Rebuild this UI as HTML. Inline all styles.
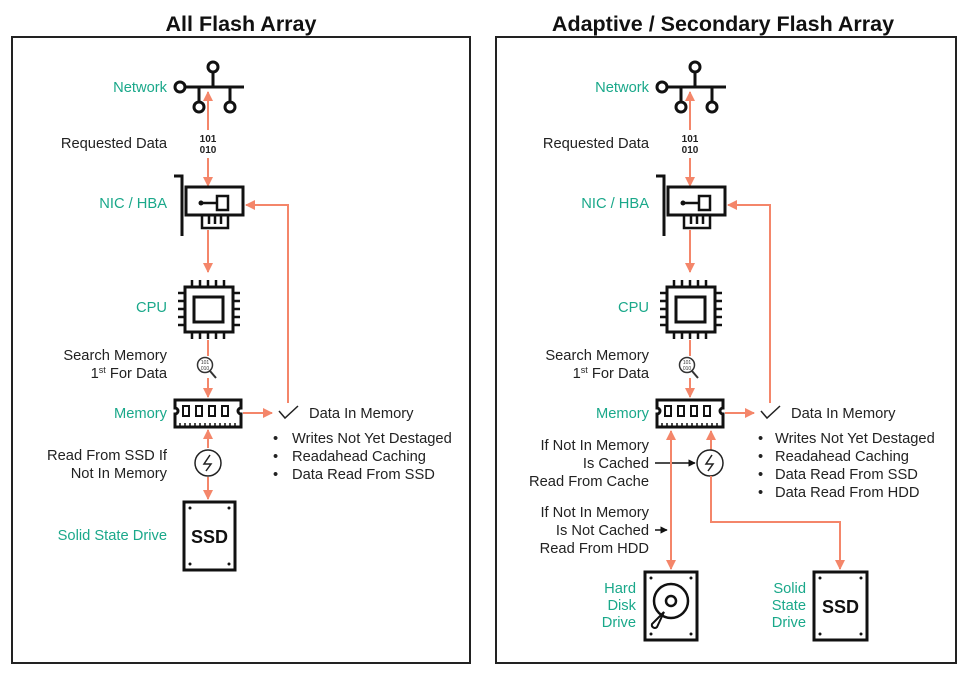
<!DOCTYPE html>
<html><head><meta charset="utf-8"><style>
body{margin:0;background:#fff;}
svg{display:block;font-family:"Liberation Sans",sans-serif;}
.g{fill:#1aa88a;font-size:14.7px;}
.k{fill:#222;font-size:14.7px;}
.o{stroke:#f4866a;stroke-width:2;fill:none;}
.b{stroke:#111;stroke-width:3;fill:none;}
</style></head><body>
<svg width="980" height="700" viewBox="0 0 980 700">
<defs>
<marker id="a" viewBox="0 0 10 10" refX="9" refY="5" markerWidth="5" markerHeight="5" orient="auto-start-reverse"><path d="M0,0L10,5L0,10z" fill="#f4866a"/></marker>
<marker id="ak" viewBox="0 0 10 10" refX="9" refY="5" markerWidth="5" markerHeight="5" orient="auto"><path d="M0,0L10,5L0,10z" fill="#111"/></marker>
<g id="col">
 <line x1="186" y1="87" x2="244" y2="87" class="b"/>
 <circle cx="180" cy="87" r="5" class="b"/>
 <line x1="213" y1="87" x2="213" y2="72" class="b"/><circle cx="213" cy="67" r="5" class="b"/>
 <line x1="199" y1="87" x2="199" y2="102" class="b"/><circle cx="199" cy="107" r="5" class="b"/>
 <line x1="230" y1="87" x2="230" y2="102" class="b"/><circle cx="230" cy="107" r="5" class="b"/>
 <line x1="208" y1="130" x2="208" y2="92" class="o" marker-end="url(#a)"/>
 <text x="208" y="142" text-anchor="middle" font-size="10" font-weight="bold" fill="#222">101</text>
 <text x="208" y="153" text-anchor="middle" font-size="10" font-weight="bold" fill="#222">010</text>
 <line x1="208" y1="158" x2="208" y2="186" class="o" marker-end="url(#a)"/>
 <path d="M174,176 H182 V236" class="b"/>
 <rect x="186" y="187" width="57" height="28" class="b"/>
 <path d="M202,215 V228 H228 V215 M209,215V224 M215,215V224 M221,215V224" stroke="#111" stroke-width="2.5" fill="none"/>
 <circle cx="201" cy="203" r="2.5" fill="#111"/><line x1="201" y1="203" x2="217" y2="203" stroke="#111" stroke-width="2.5"/>
 <rect x="217" y="196" width="11" height="14" stroke="#111" stroke-width="2.5" fill="none"/>
 <line x1="208" y1="230" x2="208" y2="272" class="o" marker-end="url(#a)"/>
 <rect x="185" y="287" width="48" height="45" class="b"/>
 <rect x="194" y="297" width="29" height="25" class="b"/>
 <path d="M192,280V287M200,280V287M208,280V287M216,280V287M224,280V287M192,332V339M200,332V339M208,332V339M216,332V339M224,332V339M178,293H185M178,301H185M178,309H185M178,317H185M178,325H185M233,293H240M233,301H240M233,309H240M233,317H240M233,325H240" stroke="#111" stroke-width="2.5"/>
 <line x1="208" y1="340" x2="208" y2="356" class="o"/>
 <circle cx="205" cy="365" r="7.5" stroke="#333" stroke-width="1.5" fill="#fff"/>
 <line x1="210" y1="371" x2="216" y2="378" stroke="#333" stroke-width="2"/>
 <text x="205" y="364" text-anchor="middle" font-size="5" fill="#333">101</text>
 <text x="205" y="370" text-anchor="middle" font-size="5" fill="#333">010</text>
 <line x1="208" y1="378" x2="208" y2="397" class="o" marker-end="url(#a)"/>
 <path d="M175,400 H241 V408 a3,3 0 0,0 0,6 V427 H175 V414 a3,3 0 0,0 0,-6 Z" class="b" stroke-width="2.5"/>
 <rect x="183" y="406" width="6" height="10" stroke="#111" stroke-width="2" fill="none"/>
 <rect x="196" y="406" width="6" height="10" stroke="#111" stroke-width="2" fill="none"/>
 <rect x="209" y="406" width="6" height="10" stroke="#111" stroke-width="2" fill="none"/>
 <rect x="222" y="406" width="6" height="10" stroke="#111" stroke-width="2" fill="none"/>
 <path d="M180,427V423M185,427V423M190,427V423M195,427V423M200,427V423M205,427V423M210,427V423M215,427V423M220,427V423M225,427V423M230,427V423M235,427V423" stroke="#111" stroke-width="1.5"/>
 <line x1="243" y1="413" x2="272" y2="413" class="o" marker-end="url(#a)"/>
 <path d="M279,411 L285,418 L298,406" stroke="#222" stroke-width="1.5" fill="none"/>
 <text x="309" y="418" class="k">Data In Memory</text>
</g>
</defs>

<rect x="12" y="37" width="458" height="626" fill="none" stroke="#222" stroke-width="2"/>
<rect x="496" y="37" width="460" height="626" fill="none" stroke="#222" stroke-width="2"/>
<text x="241" y="31" text-anchor="middle" font-size="21.5" font-weight="bold" fill="#111">All Flash Array</text>
<text x="723" y="31" text-anchor="middle" font-size="21.5" font-weight="bold" fill="#111">Adaptive / Secondary Flash Array</text>

<use href="#col"/>
<polyline points="288,403 288,205 246,205" class="o" marker-end="url(#a)"/>
<text x="167" y="92" text-anchor="end" class="g">Network</text>
<text x="167" y="148" text-anchor="end" class="k">Requested Data</text>
<text x="167" y="208" text-anchor="end" class="g">NIC / HBA</text>
<text x="167" y="312" text-anchor="end" class="g">CPU</text>
<text x="167" y="360" text-anchor="end" class="k">Search Memory</text>
<text x="167" y="378" text-anchor="end" class="k">1<tspan font-size="9" dy="-5">st</tspan><tspan dy="5"> For Data</tspan></text>
<text x="167" y="418" text-anchor="end" class="g">Memory</text>
<text x="167" y="460" text-anchor="end" class="k">Read From SSD If</text>
<text x="167" y="478" text-anchor="end" class="k">Not In Memory</text>
<text x="167" y="540" text-anchor="end" class="g">Solid State Drive</text>
<g class="k"><text x="273" y="443">•</text><text x="292" y="443">Writes Not Yet Destaged</text>
<text x="273" y="461">•</text><text x="292" y="461">Readahead Caching</text>
<text x="273" y="479">•</text><text x="292" y="479">Data Read From SSD</text></g>
<line x1="208" y1="448" x2="208" y2="430" class="o" marker-end="url(#a)"/>
<circle cx="208" cy="463" r="13" stroke="#222" stroke-width="1.5" fill="none"/>
<path d="M210,455 L204,464 H211 L206,471" stroke="#222" stroke-width="1.5" fill="none"/>
<line x1="208" y1="477" x2="208" y2="499" class="o" marker-end="url(#a)"/>
<rect x="184" y="502" width="51" height="68" class="b"/>
<circle cx="190" cy="508" r="1.5" fill="#111"/><circle cx="229" cy="508" r="1.5" fill="#111"/><circle cx="190" cy="564" r="1.5" fill="#111"/><circle cx="229" cy="564" r="1.5" fill="#111"/>
<text x="209.5" y="543" text-anchor="middle" font-size="18" font-weight="bold" fill="#111">SSD</text>

<use href="#col" x="482"/>
<polyline points="770,403 770,205 728,205" class="o" marker-end="url(#a)"/>
<text x="649" y="92" text-anchor="end" class="g">Network</text>
<text x="649" y="148" text-anchor="end" class="k">Requested Data</text>
<text x="649" y="208" text-anchor="end" class="g">NIC / HBA</text>
<text x="649" y="312" text-anchor="end" class="g">CPU</text>
<text x="649" y="360" text-anchor="end" class="k">Search Memory</text>
<text x="649" y="378" text-anchor="end" class="k">1<tspan font-size="9" dy="-5">st</tspan><tspan dy="5"> For Data</tspan></text>
<text x="649" y="418" text-anchor="end" class="g">Memory</text>
<g class="k"><text x="758" y="443">•</text><text x="775" y="443">Writes Not Yet Destaged</text>
<text x="758" y="461">•</text><text x="775" y="461">Readahead Caching</text>
<text x="758" y="479">•</text><text x="775" y="479">Data Read From SSD</text>
<text x="758" y="497">•</text><text x="775" y="497">Data Read From HDD</text></g>
<text x="649" y="450" text-anchor="end" class="k">If Not In Memory</text>
<text x="649" y="468" text-anchor="end" class="k">Is Cached</text>
<text x="649" y="486" text-anchor="end" class="k">Read From Cache</text>
<text x="649" y="517" text-anchor="end" class="k">If Not In Memory</text>
<text x="649" y="535" text-anchor="end" class="k">Is Not Cached</text>
<text x="649" y="553" text-anchor="end" class="k">Read From HDD</text>
<line x1="655" y1="463" x2="695" y2="463" stroke="#111" stroke-width="1.5" marker-end="url(#ak)"/>
<line x1="655" y1="530" x2="667" y2="530" stroke="#111" stroke-width="1.5" marker-end="url(#ak)"/>
<line x1="671" y1="431" x2="671" y2="569" class="o" marker-start="url(#a)" marker-end="url(#a)"/>
<line x1="711" y1="450" x2="711" y2="431" class="o" marker-end="url(#a)"/>
<circle cx="710" cy="463" r="13" stroke="#222" stroke-width="1.5" fill="none"/>
<path d="M712,455 L706,464 H713 L708,471" stroke="#222" stroke-width="1.5" fill="none"/>
<polyline points="711,476 711,522 840,522 840,569" class="o" marker-end="url(#a)"/>
<rect x="645" y="572" width="52" height="68" class="b"/>
<circle cx="651" cy="578" r="1.5" fill="#111"/><circle cx="691" cy="578" r="1.5" fill="#111"/><circle cx="651" cy="634" r="1.5" fill="#111"/><circle cx="691" cy="634" r="1.5" fill="#111"/>
<circle cx="671" cy="601" r="17" stroke="#111" stroke-width="2.5" fill="none"/>
<circle cx="671" cy="601" r="5" stroke="#111" stroke-width="2.5" fill="none"/>
<path d="M664,612 L652,624 a3,3 0 0,0 5,3 Z" stroke="#111" stroke-width="2" fill="#fff"/>
<rect x="814" y="572" width="53" height="68" class="b"/>
<circle cx="820" cy="578" r="1.5" fill="#111"/><circle cx="861" cy="578" r="1.5" fill="#111"/><circle cx="820" cy="634" r="1.5" fill="#111"/><circle cx="861" cy="634" r="1.5" fill="#111"/>
<text x="840.5" y="613" text-anchor="middle" font-size="18" font-weight="bold" fill="#111">SSD</text>
<text x="636" y="593" text-anchor="end" class="g">Hard</text>
<text x="636" y="610" text-anchor="end" class="g">Disk</text>
<text x="636" y="627" text-anchor="end" class="g">Drive</text>
<text x="806" y="593" text-anchor="end" class="g">Solid</text>
<text x="806" y="610" text-anchor="end" class="g">State</text>
<text x="806" y="627" text-anchor="end" class="g">Drive</text>
</svg>
</body></html>
